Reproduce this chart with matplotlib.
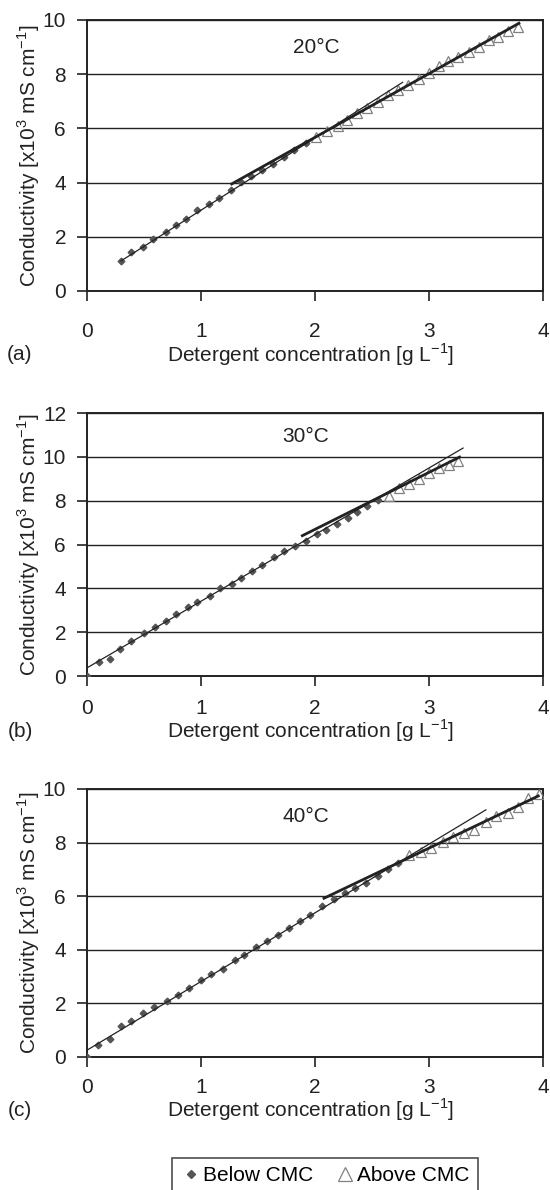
import matplotlib
matplotlib.use("Agg")
import matplotlib.pyplot as plt
import numpy as np
from matplotlib.lines import Line2D

plt.rcParams['font.family'] = ['Liberation Sans', 'DejaVu Sans']
plt.rcParams['mathtext.fontset'] = 'custom'
plt.rcParams['mathtext.rm'] = 'Liberation Sans'

# Painel (a) 20 C
a_below_x = [0.30, 0.39, 0.49, 0.58, 0.69, 0.78, 0.87, 0.97, 1.07, 1.16, 1.26, 1.35, 1.44, 1.54, 1.63, 1.73, 1.82, 1.92]
a_below_y = [1.11, 1.42, 1.63, 1.92, 2.16, 2.44, 2.67, 2.98, 3.20, 3.44, 3.72, 4.03, 4.25, 4.46, 4.70, 4.95, 5.20, 5.45]
a_above_x = [2.01, 2.11, 2.20, 2.28, 2.37, 2.46, 2.55, 2.64, 2.73, 2.82, 2.91, 3.00, 3.09, 3.17, 3.26, 3.35, 3.44, 3.53, 3.61, 3.69, 3.78]
a_above_y = [5.69, 5.90, 6.08, 6.31, 6.55, 6.77, 6.98, 7.23, 7.41, 7.60, 7.84, 8.05, 8.30, 8.50, 8.65, 8.83, 9.01, 9.26, 9.38, 9.61, 9.75]
a_fit_below = (2.668, 0.31, 0.30, 2.77)   # inclinação, intercepto, x inicial, x final
a_fit_above = (2.353, 0.96, 1.27, 3.79)

# Painel (b) 30 C
b_below_x = [0.0, 0.105, 0.20, 0.29, 0.39, 0.50, 0.60, 0.69, 0.78, 0.89, 0.97, 1.08, 1.17, 1.27, 1.35, 1.45, 1.54, 1.64, 1.73, 1.83, 1.92, 2.02, 2.10, 2.19, 2.29, 2.37, 2.46, 2.55]
b_below_y = [0.0, 0.64, 0.79, 1.25, 1.59, 1.97, 2.24, 2.50, 2.85, 3.13, 3.39, 3.66, 4.03, 4.20, 4.46, 4.81, 5.07, 5.42, 5.71, 5.95, 6.14, 6.49, 6.67, 6.93, 7.21, 7.47, 7.74, 8.02]
b_above_x = [2.65, 2.74, 2.83, 2.91, 3.00, 3.09, 3.18, 3.26]
b_above_y = [8.20, 8.58, 8.76, 8.99, 9.27, 9.50, 9.65, 9.83]
b_fit_below = (3.04, 0.37, 0.0, 3.30)
b_fit_above = (2.60, 1.49, 1.89, 3.27)

# Painel (c) 40 C
c_below_x = [0.0, 0.10, 0.20, 0.30, 0.39, 0.49, 0.59, 0.70, 0.80, 0.90, 1.00, 1.09, 1.19, 1.30, 1.38, 1.48, 1.58, 1.68, 1.77, 1.87, 1.96, 2.06, 2.17, 2.26, 2.35, 2.45, 2.55, 2.64, 2.73]
c_below_y = [0.0, 0.46, 0.68, 1.15, 1.34, 1.64, 1.87, 2.08, 2.30, 2.58, 2.86, 3.09, 3.30, 3.61, 3.82, 4.11, 4.33, 4.55, 4.83, 5.07, 5.29, 5.64, 5.88, 6.10, 6.29, 6.50, 6.75, 7.00, 7.25]
c_above_x = [2.83, 2.93, 3.02, 3.12, 3.21, 3.31, 3.40, 3.50, 3.59, 3.69, 3.78, 3.87, 3.97]
c_above_y = [7.53, 7.66, 7.78, 8.03, 8.22, 8.37, 8.47, 8.75, 8.99, 9.12, 9.34, 9.65, 9.81]
c_fit_below = (2.563, 0.25, 0.0, 3.50)
c_fit_above = (2.03, 1.70, 2.08, 3.96)

# tag, título, dados, ymax, posição dos eixos, posição do título, pad dos ticks x, y do xlabel
panels = [
    ("(a)", "20\u00b0C", a_below_x, a_below_y, a_above_x, a_above_y, a_fit_below, a_fit_above, 10,
     [0.158, 0.7555, 0.829, 0.2277], (0.504, 0.897), 15.0, -0.236),
    ("(b)", "30\u00b0C", b_below_x, b_below_y, b_above_x, b_above_y, b_fit_below, b_fit_above, 12,
     [0.158, 0.4319, 0.829, 0.2210], (0.48, 0.909), 9.5, -0.209),
    ("(c)", "40\u00b0C", c_below_x, c_below_y, c_above_x, c_above_y, c_fit_below, c_fit_above, 10,
     [0.158, 0.1118, 0.829, 0.2252], (0.48, 0.896), 8.0, -0.198),
]

FS = 15
TXT = '#222222'

fig = plt.figure(figsize=(5.5, 11.9), dpi=100)

for tag, temp, bx, by, ax_, ay, fb, fa, ymax, pos, tpos, xpad, xlab_y in panels:
    ax = fig.add_axes(pos)
    ax.set_xlim(0, 4)
    ax.set_ylim(0, ymax)
    ax.set_xticks(np.arange(0, 5, 1))
    ax.set_yticks(np.arange(0, ymax + 1, 2))
    ax.yaxis.grid(True, color=TXT, linewidth=1.0)
    ax.set_axisbelow(True)

    # pontos
    ax.plot(bx, by, linestyle='none', marker='D', markersize=3.4, color='#555555', zorder=3)
    ax.plot(ax_, ay, linestyle='none', marker='^', markersize=7.5, markerfacecolor='none',
            markeredgecolor='#808080', markeredgewidth=0.9, zorder=3)

    # retas ajustadas
    xs = np.array([fb[2], fb[3]])
    ax.plot(xs, fb[0] * xs + fb[1], color=TXT, linewidth=0.9, zorder=4)
    xs = np.array([fa[2], fa[3]])
    ax.plot(xs, fa[0] * xs + fa[1], color=TXT, linewidth=2.0, zorder=4)

    ax.text(tpos[0], tpos[1], temp, transform=ax.transAxes, ha='center', va='center',
            fontsize=FS, color=TXT)

    for s in ax.spines.values():
        s.set_linewidth(1.4)
        s.set_color(TXT)
    ax.tick_params(direction='out', length=7, width=1.2, labelsize=FS, colors=TXT)
    ax.tick_params(axis='y', pad=8)
    ax.tick_params(axis='x', pad=xpad)

    ax.set_xlabel("Detergent concentration [g L$^{\u22121}$]", fontsize=FS, color=TXT)
    ax.xaxis.set_label_coords(0.49, xlab_y)
    ax.xaxis.label.set_va('center')
    ax.set_ylabel("Conductivity [x10$^3$ mS cm$^{\u22121}$]", fontsize=FS, color=TXT)
    ax.yaxis.set_label_coords(-0.127, 0.5)
    ax.yaxis.label.set_va('center')

    ax.text(20 / 550, 0, tag, fontsize=FS, color=TXT, ha='center', va='center',
            transform=matplotlib.transforms.blended_transform_factory(fig.transFigure, ax.transAxes),
            position=(20 / 550, xlab_y))

handles = [
    Line2D([], [], linestyle='none', marker='D', markersize=4.5, color='#555555'),
    Line2D([], [], linestyle='none', marker='^', markersize=10, markerfacecolor='none',
           markeredgecolor='#808080', markeredgewidth=0.9),
]
leg = fig.legend(handles, ["Below CMC", "Above CMC"], loc='upper right',
                 bbox_to_anchor=(478 / 550, 1 - 1158 / 1190), ncol=2, fontsize=FS,
                 frameon=True, fancybox=False, handletextpad=0.1, columnspacing=1.0,
                 handlelength=1.0, borderpad=0.4, borderaxespad=0)
leg.get_frame().set_edgecolor(TXT)
leg.get_frame().set_linewidth(1.2)

fig.savefig("out.png", dpi=100)
